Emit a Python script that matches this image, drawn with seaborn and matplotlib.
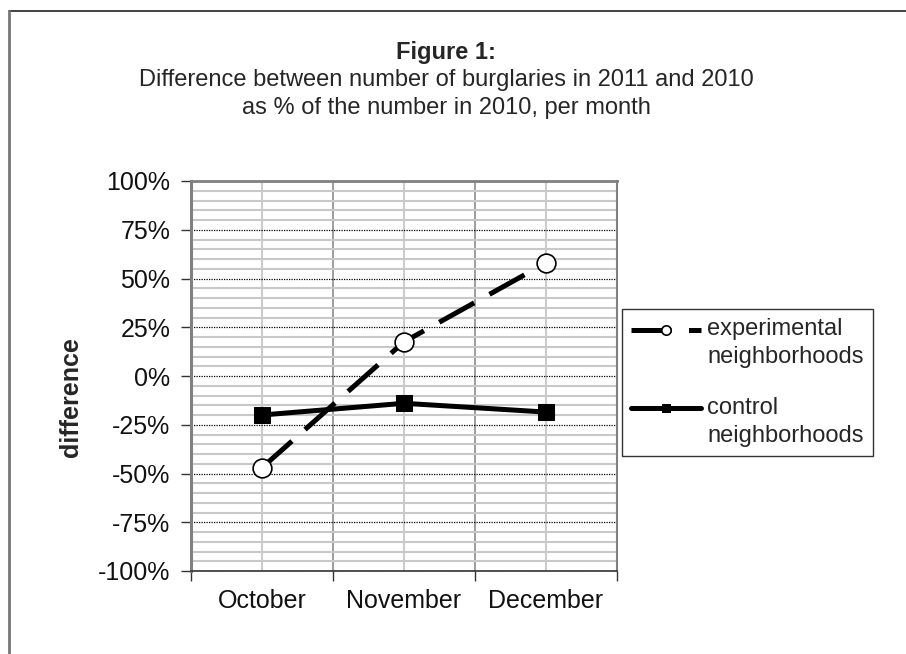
import matplotlib
matplotlib.use("Agg")
import numpy as np
import matplotlib.pyplot as plt
import seaborn as sns
import pandas as pd
from matplotlib.lines import Line2D
from matplotlib.legend_handler import HandlerLine2D
from matplotlib.ticker import MultipleLocator, FuncFormatter

# --- data ---
months = ["October", "November", "December"]
experimental = [-47, 17.5, 58]
control = [-20, -14, -18.5]

sns.set_theme(style="white")
plt.rcParams['font.family'] = ['Liberation Sans', 'DejaVu Sans']

df = pd.DataFrame({"month": months, "experimental": experimental, "control": control})


# legend handle sits on the first line of a two-line label
class FirstLineHandler(HandlerLine2D):
    def create_artists(self, legend, orig_handle, xdescent, ydescent, width, height, fontsize, trans):
        artists = super().create_artists(legend, orig_handle, xdescent, ydescent,
                                         width, height, fontsize, trans)
        for a in artists:
            a.set_ydata(np.asarray(a.get_ydata()) + 10)
        return artists


fig = plt.figure(figsize=(9.06, 6.54), dpi=100)
ax = fig.add_axes([191 / 906, 83 / 654, 426 / 906, 390 / 654])

sns.lineplot(data=df, x="month", y="experimental", ax=ax, color="black", lw=3.6,
             marker="o", markersize=13.5, markerfacecolor="white", markeredgecolor="black",
             markeredgewidth=1.2, dashes=(8, 3.5), sort=False,
             label="experimental\nneighborhoods")
sns.lineplot(data=df, x="month", y="control", ax=ax, color="black", lw=3.6,
             marker="s", markersize=11, markerfacecolor="black", markeredgecolor="black",
             sort=False, label="control\nneighborhoods")

ax.set_xlim(-0.5, 2.5)
ax.set_ylim(-100, 100)

# x: boundaries as major ticks (no labels), centres as minor ticks with labels
ax.set_xticks([-0.5, 0.5, 1.5, 2.5])
ax.set_xticklabels([])
ax.set_xticks([0, 1, 2], minor=True)
ax.set_xticklabels(months, minor=True)
ax.tick_params(axis="x", which="major", bottom=True, length=7, width=1, color="#333333", direction="out")
ax.tick_params(axis="x", which="minor", bottom=True, length=0, labelsize=18, pad=13, labelcolor="#111111")

ax.yaxis.set_major_locator(MultipleLocator(25))
ax.yaxis.set_minor_locator(MultipleLocator(5))
ax.yaxis.set_major_formatter(FuncFormatter(lambda v, p: f"{v:.0f}%"))
ax.tick_params(axis="y", which="major", left=True, length=7, width=1, color="#333333",
               direction="out", labelsize=18, pad=8, labelcolor="#111111")
ax.tick_params(axis="y", which="minor", left=False)

ax.set_axisbelow(True)
ax.grid(axis="x", which="major", color="#8c8c8c", lw=1.2, ls="-")
ax.grid(axis="x", which="minor", color="#cccccc", lw=1.5, ls="-")
ax.grid(axis="y", which="minor", color="#c8c8c8", lw=1.5, ls="-")
ax.grid(axis="y", which="major", color="black", lw=0.9, ls=(0, (1, 1)))

for side in ["left", "top", "right"]:
    ax.spines[side].set_color("#808080")
ax.spines["left"].set_linewidth(2.2)
ax.spines["top"].set_linewidth(2)
ax.spines["right"].set_linewidth(1.5)
ax.spines["bottom"].set_color("#333333")
ax.spines["bottom"].set_linewidth(1.2)

ax.set_xlabel("")
ax.set_ylabel("difference", fontsize=18, fontweight="bold")
ax.yaxis.set_label_coords(-0.2535, 0.446)

ax.get_legend().remove()
handles, labels = ax.get_legend_handles_labels()
leg = fig.legend(handles, labels, loc="upper left", bbox_to_anchor=(622 / 906, 1 - 309 / 654),
                 frameon=True, fancybox=False, edgecolor="black", fontsize=17,
                 handlelength=2.95, handletextpad=0.25, borderpad=0.4, labelspacing=1.2,
                 markerscale=0.5, borderaxespad=0,
                 handler_map={Line2D: FirstLineHandler()})
leg.get_frame().set_linewidth(1.0)
for t in leg.get_texts():
    t.set_linespacing(1.35)

# titles
fig.text(446 / 906, 1 - 52 / 654, "Figure 1:", ha="center", va="center",
         fontsize=17, fontweight="bold")
fig.text(446 / 906, 1 - 80 / 654, "Difference between number of burglaries in 2011 and 2010",
         ha="center", va="center", fontsize=17)
fig.text(446 / 906, 1 - 108 / 654, "as % of the number in 2010, per month",
         ha="center", va="center", fontsize=17)

# outer frame (top and left edges visible)
fig.add_artist(Line2D([9 / 906, 1], [1 - 11 / 654, 1 - 11 / 654], transform=fig.transFigure,
                      color="#333333", lw=1.3))
fig.add_artist(Line2D([9 / 906, 9 / 906], [0, 1 - 11 / 654], transform=fig.transFigure,
                      color="#777777", lw=2))

fig.savefig("out.png", dpi=100)
